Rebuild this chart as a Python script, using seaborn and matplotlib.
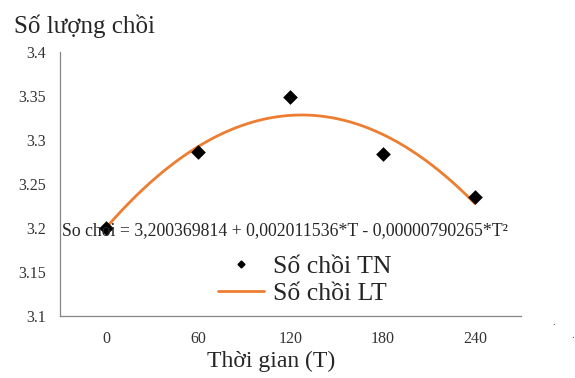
import matplotlib
matplotlib.use("Agg")
import matplotlib.pyplot as plt
import matplotlib.ticker as mticker
from matplotlib.lines import Line2D
import pandas as pd
import seaborn as sns

# data
times = [0, 60, 120, 180, 240]
so_choi_tn = [3.200, 3.286, 3.349, 3.284, 3.235]   # measured (markers)
so_choi_lt = [3.200, 3.293, 3.328, 3.306, 3.228]   # model curve (LT)
y_ticks = [3.1, 3.15, 3.2, 3.25, 3.3, 3.35, 3.4]
y_tick_labels = ["3.1", "3.15", "3.2", "3.25", "3.3", "3.35", "3.4"]
equation = "So choi = 3,200369814 + 0,002011536*T - 0,00000790265*T\u00b2"

df = pd.DataFrame({"T": times, "TN": so_choi_tn, "LT": so_choi_lt})

sns.set_style("white")
plt.rcParams["font.family"] = ["Liberation Serif", "DejaVu Serif"]

orange = "#ED7D31"
axis_grey = "#868686"

fig = plt.figure(figsize=(5.75, 3.78), dpi=100)
ax = fig.add_axes([0.1043, 0.164, 0.8017, 0.6984])

# smooth LT curve (2nd order fit of the LT points)
sns.regplot(data=df, x="T", y="LT", order=2, ci=None, scatter=False,
            line_kws={"color": orange, "lw": 2}, ax=ax)
sns.scatterplot(data=df, x="T", y="TN", marker="D", s=56, color="black",
                edgecolor="black", linewidth=0, zorder=3, ax=ax)

ax.set_xlim(-30, 270)
ax.set_ylim(3.1, 3.4)
ax.set_yticks(y_ticks)
ax.set_yticklabels(y_tick_labels)
ax.set_xticks(times)
ax.set_xticklabels([str(t) for t in times])
ax.xaxis.set_minor_locator(mticker.FixedLocator([-30, 30, 90, 150, 210, 270]))
ax.tick_params(axis="x", which="major", length=0, pad=11, labelsize=11.5, labelcolor="#333333")
ax.tick_params(axis="x", which="minor", length=5, width=0.9, color=axis_grey, direction="out")
ax.tick_params(axis="y", which="major", length=5, width=0.9, color=axis_grey,
               direction="out", pad=5, labelsize=11.5, labelcolor="#333333")
ax.set_xlabel("")
ax.set_ylabel("")

for s in ["top", "right"]:
    ax.spines[s].set_visible(False)
for s in ["left", "bottom"]:
    ax.spines[s].set_color(axis_grey)
    ax.spines[s].set_linewidth(0.9)

# titles
fig.text(14 / 575, 1 - 33 / 378, "Số lượng chồi", fontsize=18, va="baseline", ha="left")
fig.text(271 / 575, 1 - 367 / 378, "Thời gian (T)", fontsize=17, va="baseline", ha="center")

# trend equation
fig.text(62 / 575, 1 - 235 / 378, equation, fontsize=12.8, va="baseline", ha="left")

# legend
handles = [
    Line2D([], [], marker="D", color="black", linestyle="none", markersize=3.5),
    Line2D([], [], color=orange, lw=2),
]
fig.legend(handles, ["Số chồi TN", "Số chồi LT"], loc="upper left",
           bbox_to_anchor=(218 / 575, 1 - 255 / 378), frameon=False,
           fontsize=18.5, handlelength=1.8, handletextpad=0.35,
           labelspacing=0.15, borderpad=0, borderaxespad=0)

# stray dots at the lower right of the original
fig.text(552 / 575, 1 - 325 / 378, ".", fontsize=8, color="#555555")
fig.text(571 / 575, 1 - 338 / 378, ".", fontsize=8, color="#555555")

fig.savefig("out.png", dpi=100)
